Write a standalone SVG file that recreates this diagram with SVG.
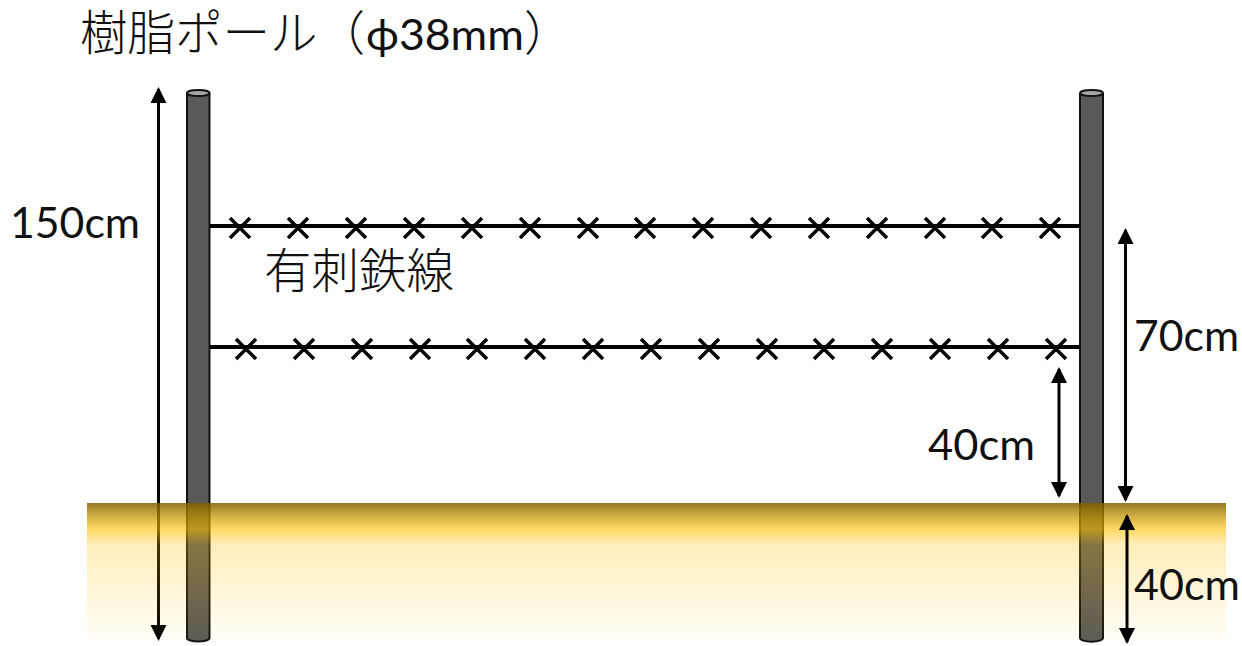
<svg xmlns="http://www.w3.org/2000/svg" width="1242" height="646" viewBox="0 0 1242 646">
<style>
text{font-family:"Lato","Noto Sans CJK JP",sans-serif;font-size:42px;fill:#111}
.jp{font-family:"Noto Sans CJK JP","Noto Sans",sans-serif;font-weight:300;font-size:47.500px}
.body{fill:#595959;stroke:#111;stroke-width:2}
.cap{fill:#a6a6a6;stroke:#111;stroke-width:2}
.wire{stroke:#000;stroke-width:4;fill:none}
.dim{stroke:#000;stroke-width:3;fill:none;marker-start:url(#a);marker-end:url(#a)}
</style>
<defs>
<marker id="a" viewBox="0 0 16 16" refX="14" refY="8" markerWidth="16" markerHeight="16" markerUnits="userSpaceOnUse" orient="auto-start-reverse"><path d="M0 0L16 8L0 16Z" fill="#000"/></marker>
<path id="x" d="M-10-10L10 10M-10 10L10-10" stroke="#000" stroke-width="3.500" fill="none"/>
<linearGradient id="g" x1="0" y1="0" x2="0" y2="1">
<stop offset="0" stop-color="#7f6000" stop-opacity=".85"/>
<stop offset=".19" stop-color="#ffc000" stop-opacity=".6"/>
<stop offset=".3" stop-color="#ffc000" stop-opacity=".27"/>
<stop offset="1" stop-color="#ffc000" stop-opacity=".02"/>
</linearGradient>
</defs>
<g id="pole-left">
<path class="body" d="M187 94V638A11 3.500 0 0 0 209.500 638V94Z"/>
<ellipse class="cap" cx="198.300" cy="93" rx="11.300" ry="3"/>
</g>
<g id="pole-right">
<path class="body" d="M1080 94V638A11 3.500 0 0 0 1103 638V94Z"/>
<ellipse class="cap" cx="1091.500" cy="93" rx="11.500" ry="3"/>
</g>
<g id="connectors">
<path class="wire" d="M210 226H1080M210 347H1080"/>
<use href="#x" x="240" y="228"/><use href="#x" x="298" y="228"/><use href="#x" x="356" y="228"/><use href="#x" x="414" y="228"/><use href="#x" x="472" y="228"/><use href="#x" x="530" y="228"/><use href="#x" x="588" y="228"/><use href="#x" x="645" y="228"/><use href="#x" x="703" y="228"/><use href="#x" x="761" y="228"/><use href="#x" x="819" y="228"/><use href="#x" x="877" y="228"/><use href="#x" x="935" y="228"/><use href="#x" x="992" y="228"/><use href="#x" x="1050" y="228"/>
<use href="#x" x="246" y="349"/><use href="#x" x="304" y="349"/><use href="#x" x="362" y="349"/><use href="#x" x="420" y="349"/><use href="#x" x="477" y="349"/><use href="#x" x="535" y="349"/><use href="#x" x="593" y="349"/><use href="#x" x="651" y="349"/><use href="#x" x="709" y="349"/><use href="#x" x="767" y="349"/><use href="#x" x="824" y="349"/><use href="#x" x="882" y="349"/><use href="#x" x="940" y="349"/><use href="#x" x="998" y="349"/><use href="#x" x="1056" y="349"/>
<path class="dim" d="M158.500 89V639"/>
<path class="dim" d="M1125.500 230V500"/>
<path class="dim" d="M1059 369V496"/>
</g>
<rect id="ground" x="87" y="503" width="1139" height="139" fill="url(#g)"/>
<g id="connectors-front">
<path class="dim" d="M1127 516V642"/>
</g>
<g id="labels">
<text class="jp" x="80" y="50">樹脂ポール（</text>
<text x="366" y="50" textLength="158" lengthAdjust="spacingAndGlyphs">ϕ38mm</text>
<text class="jp" x="524" y="50">）</text>
<text x="10" y="238" textLength="130" lengthAdjust="spacingAndGlyphs">150cm</text>
<text class="jp" x="264" y="288">有刺鉄線</text>
<text x="1134" y="351" textLength="105" lengthAdjust="spacingAndGlyphs">70cm</text>
<text x="928" y="460" textLength="107" lengthAdjust="spacingAndGlyphs">40cm</text>
<text x="1134" y="600" textLength="106" lengthAdjust="spacingAndGlyphs">40cm</text>
</g>
</svg>
